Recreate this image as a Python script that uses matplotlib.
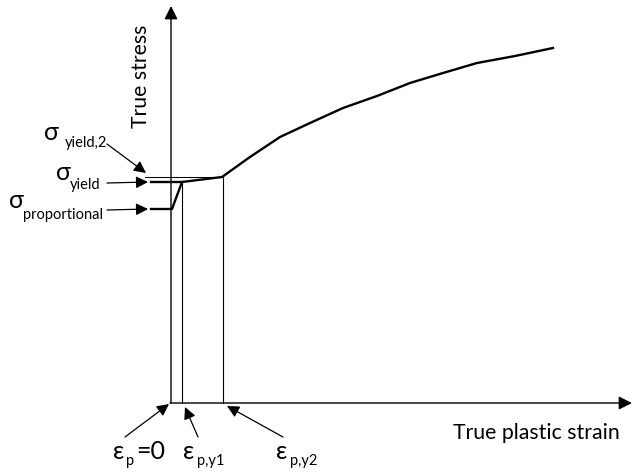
import matplotlib
matplotlib.use("Agg")
import matplotlib.pyplot as plt

# ---- data (arbitrary units read from the schematic) ----
strain_curve = [-20, 1, 11, 51, 79, 109, 124, 139, 172, 206, 239, 272, 306, 344, 382]
stress_curve = [194, 194, 221, 226, 246, 266, 273, 280, 295, 307, 320, 330, 340, 347, 355]
eps_y1 = 11
eps_y2 = 52
sig_prop = 194
sig_yield = 221
sig_yield2 = 226
yield_line_start = -20
yield2_line_start = -26

FONT = "Lato"
plt.rcParams['font.family'] = [FONT, 'DejaVu Sans']

W, H = 632, 474
OX, OY = 171, 403  # pixel position of the origin
fig = plt.figure(figsize=(W / 100, H / 100), dpi=100)
ax = fig.add_axes([0, 0, 1, 1])
ax.set_xlim(-OX, W - OX)
ax.set_ylim(OY - H, OY)
ax.axis('off')


def P(px, py):
    return (px - OX, OY - py)


# axes with arrows
ax.annotate('', xy=P(171, 6), xytext=P(171, 403),
            arrowprops=dict(arrowstyle='-|>', color='black', lw=1.0, mutation_scale=20,
                            shrinkA=0, shrinkB=0))
ax.annotate('', xy=P(632, 403), xytext=P(170, 403),
            arrowprops=dict(arrowstyle='-|>', color='black', lw=1.0, mutation_scale=20,
                            shrinkA=0, shrinkB=0))

# thin reference lines
ax.plot([yield2_line_start, eps_y2], [sig_yield2, sig_yield2], color='black', lw=0.75)
ax.plot([eps_y1, eps_y1], [0, sig_yield], color='black', lw=0.8)
ax.plot([eps_y2, eps_y2], [0, sig_yield2], color='black', lw=0.8)

# curve
ax.plot(strain_curve, stress_curve, color='black', lw=1.7, solid_joinstyle='round')
ax.plot([yield_line_start, eps_y1], [sig_yield, sig_yield], color='black', lw=1.7)

# annotation arrows
aprops = dict(arrowstyle='-|>', color='black', lw=0.9, mutation_scale=18, shrinkA=0, shrinkB=0)
ax.annotate('', xy=P(146, 173), xytext=P(107, 144), arrowprops=aprops)
ax.annotate('', xy=P(148, 182), xytext=P(107, 183), arrowprops=aprops)
ax.annotate('', xy=P(148, 209), xytext=P(107, 210), arrowprops=aprops)
ax.annotate('', xy=P(169, 404), xytext=P(125, 437), arrowprops=aprops)
ax.annotate('', xy=P(185, 407), xytext=P(198, 437), arrowprops=aprops)
ax.annotate('', xy=P(227, 406), xytext=P(283, 437), arrowprops=aprops)


def label(px, py, s, size):
    ax.text(*P(px, py), s, fontsize=size, ha='left', va='baseline', color='black')


BIG = 18
SUB = 10.5
label(44, 140, 'σ', BIG)
label(65, 147, 'yield,2', SUB)
label(56, 180, 'σ', BIG)
label(70, 189, 'yield', SUB)
label(9, 208, 'σ', BIG)
label(23, 219, 'proportional', SUB)

label(113, 459, 'ε', BIG)
label(126, 465, 'p', SUB)
label(136, 459, '=0', BIG)
label(183, 459, 'ε', BIG)
label(197, 465, 'p,y1', SUB)
label(276, 459, 'ε', BIG)
label(290, 465, 'p,y2', SUB)

ax.text(*P(536, 433), 'True plastic strain', fontsize=15.3, ha='center', va='center')
ax.text(*P(141, 76), 'True stress', fontsize=15.3, ha='center', va='center', rotation=90)

fig.savefig('out.png', dpi=100)
